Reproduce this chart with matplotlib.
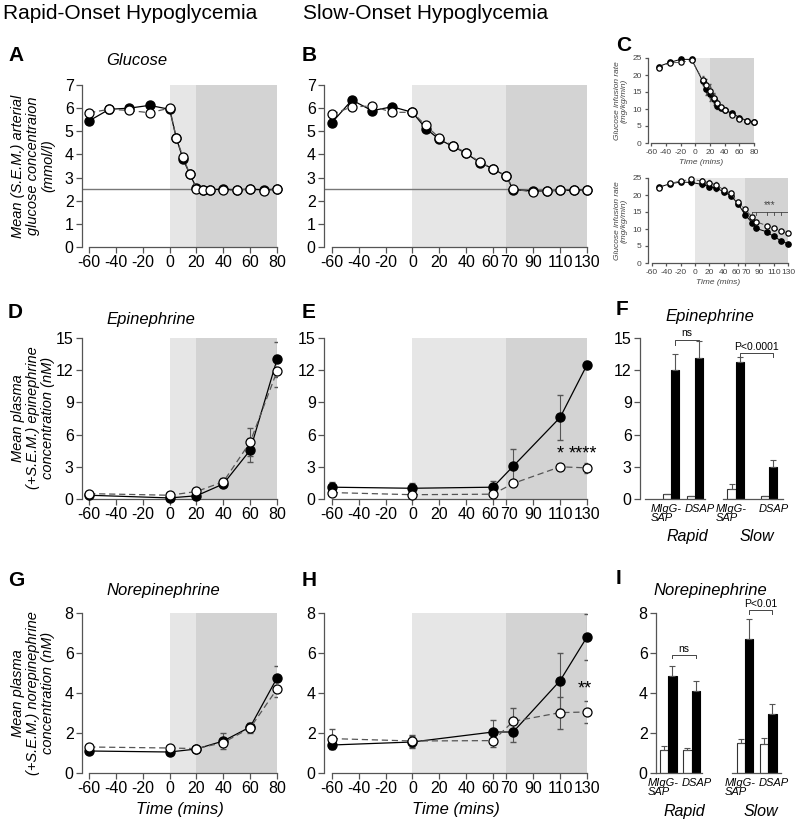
import numpy as np
import matplotlib
matplotlib.use('Agg')
import matplotlib.pyplot as plt
import matplotlib.transforms as mtransforms

plt.rcParams['font.family'] = ['Liberation Sans', 'DejaVu Sans']
plt.rcParams['axes.unicode_minus'] = False

# ---------------- data ----------------
# glucose, rapid onset (A)
tA = [-60, -45, -30, -15, 0, 5, 10, 15, 20, 25, 30, 40, 50, 60, 70, 80]
gluA_blk = [5.45, 5.95, 6.0, 6.12, 5.95, 4.7, 3.8, 3.15, 2.55, 2.45, 2.48, 2.5, 2.47, 2.5, 2.47, 2.5]
gluA_wht = [5.8, 5.95, 5.9, 5.8, 6.0, 4.7, 3.88, 3.15, 2.52, 2.45, 2.48, 2.45, 2.47, 2.5, 2.42, 2.5]
gluA_err = [0.12, 0.15, 0.08, 0.08, 0.08, 0.05, 0.1, 0.05, 0.05, 0.03, 0.03, 0.03, 0.03, 0.03, 0.03, 0.03]

# glucose, slow onset (B)
tB = [-60, -45, -30, -15, 0, 10, 20, 30, 40, 50, 60, 70, 75, 90, 100, 110, 120, 130]
gluB_blk = [5.37, 6.35, 5.89, 6.06, 5.82, 5.12, 4.65, 4.35, 4.05, 3.65, 3.38, 3.05, 2.48, 2.42, 2.42, 2.45, 2.45, 2.47]
gluB_wht = [5.73, 6.06, 6.09, 5.82, 5.82, 5.25, 4.72, 4.37, 4.08, 3.68, 3.39, 3.06, 2.5, 2.38, 2.42, 2.46, 2.45, 2.47]
gluB_err = [0.12, 0.12, 0.1, 0.08, 0.05, 0.05, 0.05, 0.05, 0.05, 0.05, 0.05, 0.05, 0.03, 0.03, 0.03, 0.03, 0.03, 0.03]

# glucose infusion rate (C)
tC1 = [-50, -35, -20, -5, 10, 15, 20, 25, 30, 35, 40, 50, 60, 70, 80]
gir1_blk = [22.5, 23.7, 24.6, 24.6, 18.2, 16.0, 14.5, 12.8, 11.0, 10.2, 9.6, 8.8, 7.5, 6.6, 6.2]
gir1_wht = [22.2, 23.6, 23.7, 24.3, 18.6, 17.0, 15.3, 13.3, 11.7, 10.6, 9.8, 8.1, 7.2, 6.6, 6.2]
gir1_err = [0.4, 0.3, 0.3, 0.4, 1.0, 1.8, 2.0, 1.5, 1.0, 0.5, 0.3, 0.3, 0.3, 0.3, 0.3]
tC2 = [-50, -35, -20, -5, 10, 20, 30, 40, 50, 60, 70, 80, 85, 100, 110, 120, 130]
gir2_blk = [22.3, 23.3, 23.8, 23.7, 23.1, 22.5, 22.0, 21.0, 19.8, 17.5, 14.2, 11.8, 10.2, 9.2, 7.8, 6.6, 5.6]
gir2_wht = [22.2, 23.4, 24.1, 24.6, 24.1, 23.6, 23.0, 21.5, 20.5, 18.0, 15.8, 13.5, 12.2, 11.0, 10.2, 9.5, 8.7]
gir2_err = [0.3, 0.3, 0.5, 0.9, 0.8, 0.8, 0.8, 0.8, 0.8, 0.6, 0.4, 0.4, 0.3, 0.3, 0.3, 0.3, 0.3]

# epinephrine / norepinephrine time courses (D, E, G, H)
tR = [-60, 0, 20, 40, 60, 80]
tS = [-60, 0, 60, 75, 110, 130]
epiD_blk = [0.35, 0.1, 0.3, 1.4, 4.55, 13.0]
epiD_blk_err = [0.1, 0.1, 0.1, 0.3, 1.1, 1.6]
epiD_wht = [0.5, 0.35, 0.7, 1.6, 5.3, 11.9]
epiD_wht_err = [0.1, 0.1, 0.15, 0.35, 1.3, 1.5]
epiE_blk = [1.1, 1.0, 1.1, 3.05, 7.6, 12.5]
epiE_blk_err = [0.5, 0.5, 0.6, 1.6, 2.1, 0.4]
epiE_wht = [0.6, 0.4, 0.45, 1.45, 3.0, 2.9]
epiE_wht_err = [0.1, 0.1, 0.1, 0.15, 0.3, 0.5]
neG_blk = [1.1, 1.05, 1.2, 1.6, 2.3, 4.75]
neG_blk_err = [0.08, 0.05, 0.05, 0.4, 0.2, 0.6]
neG_wht = [1.3, 1.25, 1.22, 1.52, 2.25, 4.2]
neG_wht_err = [0.1, 0.1, 0.05, 0.1, 0.25, 0.4]
neH_blk = [1.4, 1.55, 2.05, 2.05, 4.62, 6.8]
neH_blk_err = [0.2, 0.3, 0.6, 0.5, 1.4, 1.15]
neH_wht = [1.72, 1.6, 1.62, 2.58, 3.02, 3.05]
neH_wht_err = [0.5, 0.3, 0.3, 0.65, 0.8, 0.55]

# bar summaries (F, I): Rapid MIgG-SAP, Rapid DSAP, Slow MIgG-SAP, Slow DSAP
bar_labels = ['MIgG-\nSAP', 'DSAP', 'MIgG-\nSAP', 'DSAP']
group_labels = ['Rapid', 'Slow']
epi_base = [0.5, 0.3, 0.9, 0.25]
epi_base_err = [0.0, 0.0, 0.5, 0.0]
epi_hypo = [12.0, 13.1, 12.75, 3.0]
epi_hypo_err = [1.55, 1.65, 0.5, 0.6]
ne_base = [1.15, 1.15, 1.5, 1.45]
ne_base_err = [0.2, 0.1, 0.2, 0.3]
ne_hypo = [4.85, 4.12, 6.7, 2.95]
ne_hypo_err = [0.5, 0.47, 1.0, 0.5]

# ---------------- layout ----------------
W, H = 797, 825
fig = plt.figure(figsize=(W / 100, H / 100), dpi=100)

LIGHT = '#e6e6e6'
DARK = '#d3d3d3'
SPINE = '#555555'
TFS = 11.5


def add_ax(l, r, t, b):
    return fig.add_axes([l / W, 1 - b / H, (r - l) / W, (b - t) / H])


def style(ax, xlim, ylim, xticks, yticks, x0, fs=TFS, tl=4, col='black'):
    ax.set_xlim(*xlim)
    ax.set_ylim(*ylim)
    for s in ['top', 'right']:
        ax.spines[s].set_visible(False)
    for s in ['left', 'bottom']:
        ax.spines[s].set_color(SPINE)
        ax.spines[s].set_linewidth(0.9)
    ax.spines['left'].set_bounds(ylim[0], ylim[1])
    ax.spines['bottom'].set_bounds(x0, xlim[1])
    ax.set_xticks(xticks)
    ax.set_yticks(yticks)
    ax.tick_params(direction='out', length=tl, width=0.9, color=SPINE,
                   labelsize=fs, labelcolor=col, pad=2)
    ax.patch.set_visible(False)


def nudge_ticks(ax, shifts):
    # move crowded tick labels (60 / 70) slightly apart, as in the original
    for lab, tv in zip(ax.get_xticklabels(), ax.get_xticks()):
        if tv in shifts:
            off = mtransforms.ScaledTranslation(shifts[tv] / 100, 0, fig.dpi_scale_trans)
            lab.set_transform(lab.get_transform() + off)


def time_panel(ax, t, blk, wht, eb, ew, shade, ms=6.5, lw=0.9, cap=2):
    ax.axvspan(shade[0], shade[1], color=LIGHT, lw=0, zorder=0)
    ax.axvspan(shade[1], shade[2], color=DARK, lw=0, zorder=0)
    ax.errorbar(t, blk, yerr=eb, fmt='none', ecolor='#555555', elinewidth=0.8, capsize=cap, zorder=2)
    ax.errorbar(t, wht, yerr=ew, fmt='none', ecolor='#555555', elinewidth=0.8, capsize=cap, zorder=2)
    ax.plot(t, blk, '-', color='black', lw=lw, marker='o', ms=ms, mfc='black', mec='black',
            zorder=3, clip_on=False)
    ax.plot(t, wht, '--', color='#555555', dashes=(5, 3), lw=lw, marker='o', ms=ms, mfc='white',
            mec='black', mew=0.9, zorder=4, clip_on=False)


xR = (-65.3, 80)
xS = (-65.8, 130)
ticksR = [-60, -40, -20, 0, 20, 40, 60, 80]
ticksS = [-60, -40, -20, 0, 20, 40, 60, 70, 90, 110, 130]
shiftS = {60: -3, 70: 3}

# A
axA = add_ax(82, 277, 85, 247)
time_panel(axA, tA, gluA_blk, gluA_wht, gluA_err, gluA_err, (0, 20, 80))
axA.axhline(2.5, color='#777777', lw=1.0, zorder=1)
style(axA, xR, (0, 7), ticksR, range(0, 8), -60)
axA.text(-47, 7.72, 'Glucose', style='italic', fontsize=12, ha='left', va='bottom')

# B
axB = add_ax(324, 587, 85, 247)
time_panel(axB, tB, gluB_blk, gluB_wht, gluB_err, gluB_err, (0, 70, 130))
axB.axhline(2.5, color='#777777', lw=1.0, zorder=1)
style(axB, xS, (0, 7), ticksS, range(0, 8), -60)
nudge_ticks(axB, shiftS)

# D
axD = add_ax(82, 277, 338, 499)
time_panel(axD, tR, epiD_blk, epiD_wht, epiD_blk_err, epiD_wht_err, (0, 20, 80))
style(axD, xR, (0, 15), ticksR, range(0, 16, 3), -60)
axD.text(-47, 16.0, 'Epinephrine', style='italic', fontsize=12, ha='left', va='bottom')

# E
axE = add_ax(324, 587, 338, 499)
time_panel(axE, tS, epiE_blk, epiE_wht, epiE_blk_err, epiE_wht_err, (0, 70, 130))
style(axE, xS, (0, 15), ticksS, range(0, 16, 3), -60)
nudge_ticks(axE, shiftS)
axE.text(110, 4.2, '*', fontsize=13, ha='center', va='center')
axE.text(127, 4.2, '****', fontsize=13, ha='center', va='center')

# G
axG = add_ax(82, 277, 613, 773)
time_panel(axG, tR, neG_blk, neG_wht, neG_blk_err, neG_wht_err, (0, 20, 80))
style(axG, xR, (0, 8), ticksR, range(0, 9, 2), -60)
axG.text(-47, 8.75, 'Norepinephrine', style='italic', fontsize=12, ha='left', va='bottom')
axG.set_xlabel('Time (mins)', style='italic', fontsize=12, labelpad=4)

# H
axH = add_ax(324, 587, 613, 773)
time_panel(axH, tS, neH_blk, neH_wht, neH_blk_err, neH_wht_err, (0, 70, 130))
style(axH, xS, (0, 8), ticksS, range(0, 9, 2), -60)
nudge_ticks(axH, shiftS)
axH.text(128, 4.2, '**', fontsize=13, ha='center', va='center')
axH.set_xlabel('Time (mins)', style='italic', fontsize=12, labelpad=4)

# C (two small infusion panels)
CCOL = '#444444'
axC1 = add_ax(648, 754, 58, 143)
time_panel(axC1, tC1, gir1_blk, gir1_wht, gir1_err, gir1_err, (0, 20, 80), ms=3.8, lw=0.7, cap=1)
style(axC1, (-64.5, 80), (0, 25), ticksR, range(0, 26, 5), -60, fs=6, tl=2.5, col=CCOL)
axC1.set_xlabel('Time (mins)', style='italic', fontsize=6, color=CCOL, labelpad=2)
axC1.set_ylabel('Glucose infusion rate\n(mg/kg/min)', style='italic', fontsize=6, color=CCOL,
                labelpad=3, linespacing=1.0)

axC2 = add_ax(648, 788, 178, 263)
time_panel(axC2, tC2, gir2_blk, gir2_wht, gir2_err, gir2_err, (0, 70, 130), ms=3.8, lw=0.7, cap=1)
style(axC2, (-65.5, 130), (0, 25), ticksS, range(0, 26, 5), -60, fs=6, tl=2.5, col=CCOL)
nudge_ticks(axC2, {60: -1.5, 70: 1.5})
axC2.set_xlabel('Time (mins)', style='italic', fontsize=6, color=CCOL, labelpad=2)
axC2.set_ylabel('Glucose infusion rate\n(mg/kg/min)', style='italic', fontsize=6, color=CCOL,
                labelpad=3, linespacing=1.0)
br = [80, 85, 100, 110, 120, 130]
axC2.plot([br[0], br[-1]], [15, 15], color=CCOL, lw=0.6, zorder=5)
for b in br:
    axC2.plot([b, b], [15, 14.2], color=CCOL, lw=0.6, zorder=5)
axC2.text(105, 15.6, '***', fontsize=7, color=CCOL, ha='center', va='bottom')


# F and I (bars)
def bar_panel(ax, xw, base, base_err, hypo, hypo_err, xlim, ylim, yticks, segs):
    xb = [x + 1 for x in xw]
    zeros = [0] * len(base)
    ek = dict(ecolor='#555555', elinewidth=0.8, capsize=2, capthick=0.8)
    ax.bar(xw, base, width=1, color='white', edgecolor='#333333', lw=0.8,
           yerr=[zeros, base_err], error_kw=ek, zorder=2)
    ax.bar(xb, hypo, width=1, color='black', edgecolor='black', lw=0.8,
           yerr=[zeros, hypo_err], error_kw=ek, zorder=2)
    ax.set_xlim(*xlim)
    ax.set_ylim(*ylim)
    for s in ['top', 'right', 'bottom']:
        ax.spines[s].set_visible(False)
    ax.spines['left'].set_color(SPINE)
    ax.spines['left'].set_linewidth(0.9)
    ax.set_xticks([])
    ax.set_yticks(yticks)
    ax.tick_params(direction='out', length=4, width=0.9, color=SPINE, labelsize=TFS, pad=2)
    for a, b in segs:
        ax.plot([a, b], [0, 0], color=SPINE, lw=0.9, clip_on=False, zorder=3)
    return xb


def bracket(ax, x1, x2, y, drop, txt):
    ax.plot([x1, x1, x2, x2], [y - drop, y, y, y - drop], color='#444444', lw=0.7, clip_on=False)
    ax.text((x1 + x2) / 2, y + drop * 0.4, txt, fontsize=7.5, ha='center', va='bottom')


def bar_labels_under(ax, xw, ylab, ygrp):
    tr = ax.get_xaxis_transform()
    shifts = [-0.55, 0.6, -0.55, 0.6]
    for i, x in enumerate(xw):
        ax.text(x + 0.5 + shifts[i], ylab, bar_labels[i], transform=tr, style='italic', fontsize=8,
                ha='center', va='top', multialignment='left', linespacing=0.95)
    for g in range(2):
        xc = (xw[2 * g] + xw[2 * g + 1] + 1) / 2 + 0.5
        ax.text(xc, ygrp, group_labels[g], transform=tr, style='italic', fontsize=11.5,
                ha='center', va='center')


axF = add_ax(640, 790, 338, 499)
xF = [0, 2.94, 7.9, 12.0]
xbF = bar_panel(axF, xF, epi_base, epi_base_err, epi_hypo, epi_hypo_err, (-3.3, 15.05), (0, 15),
                range(0, 16, 3), [(-2.7, 4.6), (6.9, 14.2)])
bracket(axF, xbF[0], xbF[1], 14.8, 0.45, 'ns')
bracket(axF, xbF[2], xbF[3], 13.6, 0.35, 'P<0.0001')
axF.text(5.2, 16.3, 'Epinephrine', style='italic', fontsize=12, ha='center', va='bottom')
bar_labels_under(axF, xF, -0.03, -0.23)

axI = add_ax(656, 790, 613, 773)
xI = [0, 2.8, 9.2, 12.0]
xbI = bar_panel(axI, xI, ne_base, ne_base_err, ne_hypo, ne_hypo_err, (-0.96, 15.1), (0, 8),
                range(0, 9, 2), [(-0.96, 4.6), (8.2, 14.0)])
bracket(axI, xbI[0], xbI[1], 5.9, 0.17, 'ns')
bracket(axI, xbI[2], xbI[3], 8.13, 0.17, 'P<0.01')
axI.text(5.5, 8.75, 'Norepinephrine', style='italic', fontsize=12, ha='center', va='bottom')
bar_labels_under(axI, xI, -0.03, -0.24)

# ---------------- figure texts ----------------
fig.text(3 / W, 1 - 4 / H, 'Rapid-Onset Hypoglycemia', fontsize=15, ha='left', va='top')
fig.text(303 / W, 1 - 4 / H, 'Slow-Onset Hypoglycemia', fontsize=15, ha='left', va='top')

letters = [('A', 8, 46), ('B', 302, 46), ('C', 616, 36), ('D', 8, 303), ('E', 302, 303),
           ('F', 616, 300), ('G', 8, 571), ('H', 302, 571), ('I', 616, 569)]
for s, x, y in letters:
    fig.text(x / W, 1 - y / H, s, fontsize=15, fontweight='bold', ha='left', va='top')

ylabs = [('Mean (S.E.M.) arterial\nglucose concentraion\n(mmol/l)', 166),
         ('Mean plasma\n(+S.E.M.) epinephrine\nconcentration (nM)', 418),
         ('Mean plasma\n(+S.E.M.) norepinephrine\nconcentration (nM)', 693)]
for s, y in ylabs:
    fig.text(33 / W, 1 - y / H, s, rotation=90, style='italic', fontsize=10.5,
             ha='center', va='center', linespacing=1.1)

fig.savefig('out.png', dpi=100)
